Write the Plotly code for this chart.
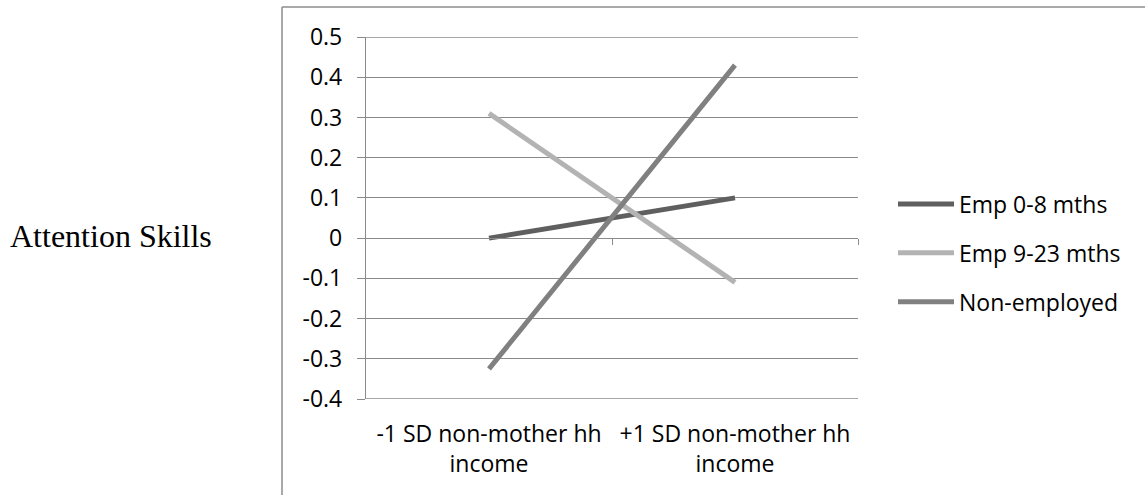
import plotly.graph_objects as go

categories = ["-1 SD non-mother hh<br>income", "+1 SD non-mother hh<br>income"]
series_names = ["Emp 0-8 mths", "Emp 9-23 mths", "Non-employed"]
emp_0_8 = [0.0, 0.10]
emp_9_23 = [0.31, -0.11]
non_employed = [-0.325, 0.43]
y_tick_vals = [0.5, 0.4, 0.3, 0.2, 0.1, 0, -0.1, -0.2, -0.3, -0.4]
y_tick_text = ["0.5", "0.4", "0.3", "0.2", "0.1", "0", "-0.1", "-0.2", "-0.3", "-0.4"]
y_title = "Attention Skills"

colors = ["#5f5f5f", "#b3b3b3", "#808080"]
W, H = 1145, 495
L, R, T, B = 366, 1145 - 858, 37, 495 - 399
pw, ph = W - L - R, H - T - B

def px_x(p):
    return (p - L) / pw

def px_y(p):
    return (H - B - p) / ph

xs = [0, 1]
fig = go.Figure()
for name, vals, c in zip(series_names, [emp_0_8, emp_9_23, non_employed], colors):
    fig.add_trace(go.Scatter(x=xs, y=vals, mode="lines", name=name,
                             legendgroup=name,
                             line=dict(color=c, width=5)))

# invisible trace on secondary x axis for the axis crossing at zero
fig.add_trace(go.Scatter(x=xs, y=[0, 0], xaxis="x2", mode="lines",
                         line=dict(width=0), showlegend=False, hoverinfo="skip"))

grid = "#8a8a8a"
font_sans = "Open Sans"
y_lo, y_hi = min(y_tick_vals), max(y_tick_vals)
fig.update_layout(
    width=W, height=H,
    margin=dict(l=L, r=R, t=T, b=B),
    paper_bgcolor="white", plot_bgcolor="white",
    font=dict(family=font_sans, size=23, color="#000000"),
    xaxis=dict(range=[-0.5, 1.5], tickvals=xs, ticktext=categories,
               showgrid=False, zeroline=False, showline=False, ticks="",
               ticklabelstandoff=19, tickfont=dict(size=23)),
    xaxis2=dict(range=[-0.5, 1.5], overlaying="x", anchor="free",
                position=(0 - y_lo) / (y_hi - y_lo), side="bottom",
                tickvals=[0.5, 1.5], showticklabels=False, ticks="outside",
                ticklen=6, tickcolor=grid, tickwidth=1.3,
                showline=True, linecolor=grid, linewidth=1.3,
                showgrid=False, zeroline=False),
    yaxis=dict(range=[y_lo, y_hi], tickvals=y_tick_vals, ticktext=y_tick_text,
               showgrid=True, gridcolor=grid, gridwidth=1.3,
               zeroline=False, showline=True, linecolor=grid, linewidth=1.3,
               ticks="outside", ticklen=8, tickcolor=grid, tickwidth=1.3,
               ticklabelstandoff=10, tickfont=dict(size=23)),
    legend=dict(x=px_x(893), y=px_y(253), xanchor="left", yanchor="middle",
                font=dict(size=23), tracegroupgap=16, itemwidth=56,
                bgcolor="rgba(0,0,0,0)"),
    showlegend=True,
)

# gridlines at the top and bottom of the value range (plotly drops edge gridlines)
for yv in (y_hi, y_lo):
    fig.add_shape(type="line", xref="paper", yref="y", layer="below",
                  x0=0, x1=1, y0=yv, y1=yv,
                  line=dict(color=grid, width=1.3))

fig.add_annotation(text=y_title, xref="paper", yref="paper",
                   x=px_x(8), y=px_y(236), xanchor="left", yanchor="middle",
                   showarrow=False,
                   font=dict(family="Liberation Serif", size=32, color="#000000"))

# outer chart frame (top and left edges)
fc = "#8c8c8c"
fig.add_shape(type="line", xref="paper", yref="paper",
              x0=px_x(282), x1=px_x(1150), y0=px_y(7), y1=px_y(7),
              line=dict(color=fc, width=1.5))
fig.add_shape(type="line", xref="paper", yref="paper",
              x0=px_x(282), x1=px_x(282), y0=px_y(7), y1=px_y(500),
              line=dict(color=fc, width=1.5))

fig.write_html("out.html")
